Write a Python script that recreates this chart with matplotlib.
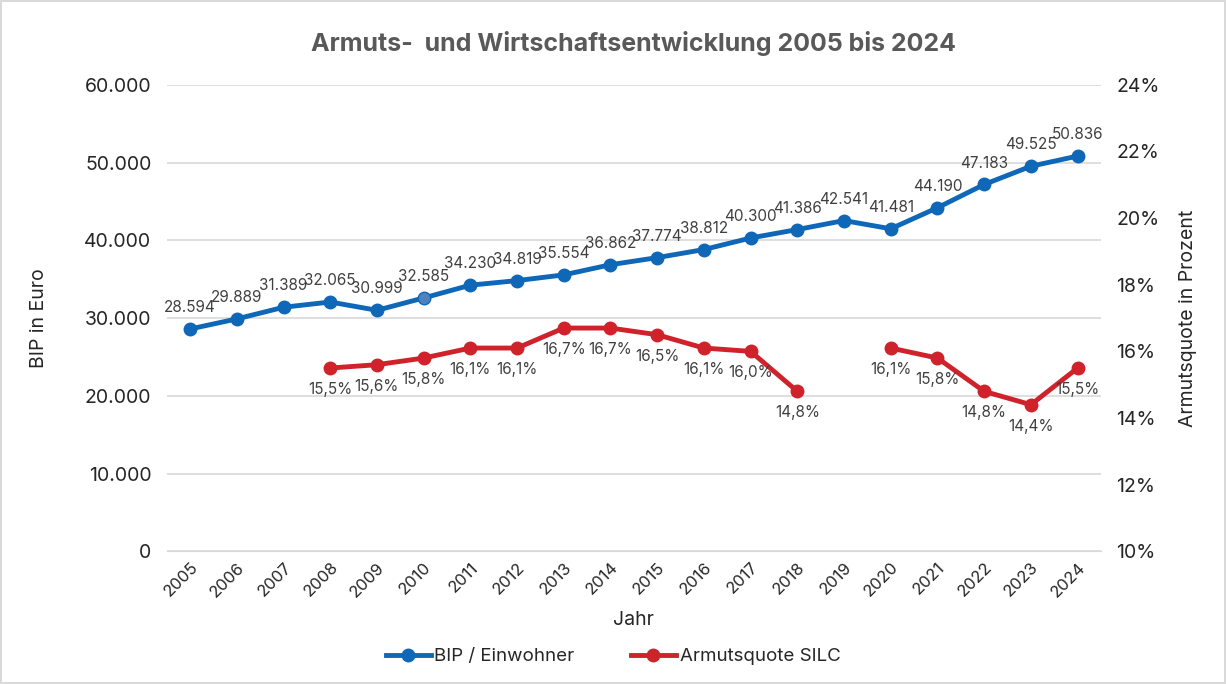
import numpy as np
import matplotlib.pyplot as plt
from matplotlib.ticker import FuncFormatter

plt.rcParams['font.family'] = ['Inter', 'DejaVu Sans']

# Daten
jahre = list(range(2005, 2025))
bip = [28594, 29889, 31389, 32065, 30999, 32585, 34230, 34819, 35554, 36862,
       37774, 38812, 40300, 41386, 42541, 41481, 44190, 47183, 49525, 50836]
armut = [np.nan, np.nan, np.nan, 15.5, 15.6, 15.8, 16.1, 16.1, 16.7, 16.7,
         16.5, 16.1, 16.0, 14.8, np.nan, 16.1, 15.8, 14.8, 14.4, 15.5]

blau = '#0F67B8'
rot = '#D0222B'
grau = '#404040'

fig = plt.figure(figsize=(12.26, 6.84), dpi=100)
fig.patch.set_edgecolor('#D9D9D9')
fig.patch.set_linewidth(1.5)
ax = fig.add_axes([0.136, 0.194, 0.762, 0.682])
ax2 = ax.twinx()

x = np.arange(len(jahre))
ax.plot(x, bip, color=blau, lw=3.5, marker='o', ms=9, label='BIP / Einwohner', zorder=3)
# 2010er Punkt ist im Original etwas heller
ax.plot(x[5], bip[5], 'o', ms=7, color='#4F81BD', zorder=4)
ax2.plot(x, armut, color=rot, lw=3.5, marker='o', ms=9, label='Armutsquote SILC', zorder=3)

# Datenbeschriftungen
for xi, v in zip(x, bip):
    ax.annotate(f'{v:,}'.replace(',', '.'), (xi, v), xytext=(0, 10),
                textcoords='offset points', ha='center', va='bottom',
                fontsize=11, color=grau)
for xi, v in zip(x, armut):
    if np.isnan(v):
        continue
    ax2.annotate(f'{v:.1f}%'.replace('.', ','), (xi, v), xytext=(0, -10),
                 textcoords='offset points', ha='center', va='top',
                 fontsize=11, color=grau)

ax.set_xlim(-0.5, len(jahre) - 0.5)
ax.set_ylim(0, 60000)
ax.set_yticks(range(0, 60001, 10000))
ax.yaxis.set_major_formatter(FuncFormatter(lambda v, p: f'{int(v):,}'.replace(',', '.')))
ax2.set_ylim(10, 24)
ax2.set_yticks(range(10, 25, 2))
ax2.yaxis.set_major_formatter(FuncFormatter(lambda v, p: f'{int(v)}%'))

ax.set_xticks(x)
ax.set_xticklabels(jahre, rotation=45, ha='right', rotation_mode='anchor')
ax.grid(axis='y', color='#D9D9D9', lw=1.2)
ax.set_axisbelow(True)

for a in (ax, ax2):
    for s in a.spines.values():
        s.set_visible(False)
    a.tick_params(length=0, labelsize=14, colors='#262626', pad=11)
ax.tick_params(axis='x', labelsize=12, pad=6)
ax.spines['bottom'].set_visible(True)
ax.spines['bottom'].set_color('#D9D9D9')

ax.set_ylabel('BIP in Euro', fontsize=14, color='#262626', labelpad=26)
ax2.set_ylabel('Armutsquote in Prozent', fontsize=14, color='#262626', labelpad=14)
ax.set_xlabel('Jahr', fontsize=14, color='#262626', labelpad=8)

ax.set_title('Armuts-  und Wirtschaftsentwicklung 2005 bis 2024', fontsize=18,
             fontweight='bold', color='#595959', pad=24)

h1, l1 = ax.get_legend_handles_labels()
h2, l2 = ax2.get_legend_handles_labels()
fig.legend(h1 + h2, l1 + l2, loc='center', bbox_to_anchor=(0.5, 0.04), ncol=2,
           frameon=False, fontsize=13.5, labelcolor='#262626', handlelength=2.4,
           columnspacing=3, handletextpad=0.2)

fig.savefig('out.png', dpi=100, edgecolor=fig.get_edgecolor())
